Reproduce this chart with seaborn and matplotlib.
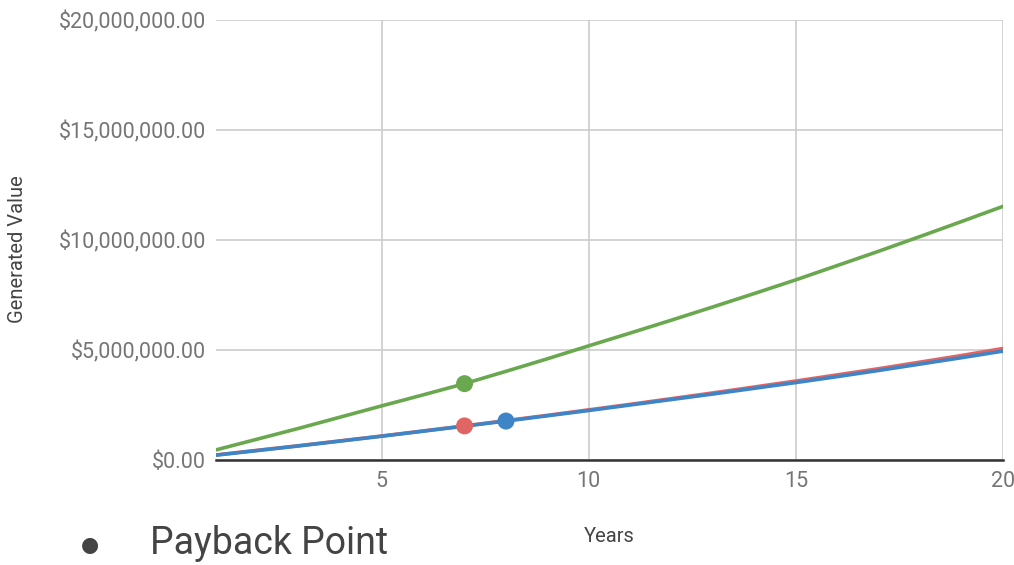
import matplotlib
matplotlib.use("Agg")
import matplotlib.pyplot as plt
from matplotlib.ticker import FuncFormatter, FixedLocator
import numpy as np
import pandas as pd
import seaborn as sns

# Cumulative generated value per scenario (USD), years 1..20
years = list(range(1, 21))
green_values = [0.46e6, 0.95e6, 1.44e6, 1.95e6, 2.46e6, 2.96e6, 3.47e6, 4.03e6, 4.60e6, 5.19e6,
                5.77e6, 6.36e6, 6.96e6, 7.57e6, 8.19e6, 8.84e6, 9.49e6, 10.16e6, 10.84e6, 11.53e6]
red_values = [0.23e6, 0.44e6, 0.65e6, 0.87e6, 1.09e6, 1.32e6, 1.55e6, 1.79e6, 2.03e6, 2.28e6,
              2.53e6, 2.79e6, 3.05e6, 3.32e6, 3.59e6, 3.87e6, 4.15e6, 4.45e6, 4.75e6, 5.07e6]
blue_values = [0.22e6, 0.43e6, 0.64e6, 0.86e6, 1.08e6, 1.31e6, 1.54e6, 1.77e6, 2.01e6, 2.25e6,
               2.50e6, 2.75e6, 3.00e6, 3.26e6, 3.52e6, 3.79e6, 4.07e6, 4.36e6, 4.65e6, 4.95e6]

series_names = ["Green", "Red", "Blue"]
series_colors = {"Green": "#6aa84f", "Red": "#e06666", "Blue": "#3d85c6"}
payback_years = {"Green": 7, "Red": 7, "Blue": 8}

y_ticks = [0, 5e6, 10e6, 15e6, 20e6]
x_ticks = [5, 10, 15, 20]

sns.set_theme(style="white")
plt.rcParams["font.family"] = ["Roboto", "DejaVu Sans"]

series = {"Green": green_values, "Red": red_values, "Blue": blue_values}
df = pd.DataFrame({
    "Year": years * 3,
    "Value": green_values + red_values + blue_values,
    "Series": sum([[n] * len(years) for n in series_names], []),
})
pts = pd.DataFrame({
    "Year": [payback_years[n] for n in series_names],
    "Value": [series[n][years.index(payback_years[n])] for n in series_names],
    "Series": series_names,
})

fig = plt.figure(figsize=(10.14, 5.65), dpi=100)
ax = fig.add_axes([216 / 1014, 105 / 565, 787 / 1014, 440 / 565])

sns.lineplot(data=df, x="Year", y="Value", hue="Series", palette=series_colors,
             linewidth=2.6, legend=False, ax=ax, zorder=3)
sns.scatterplot(data=pts, x="Year", y="Value", hue="Series", palette=series_colors,
                s=150, edgecolor="none", legend=False, ax=ax, zorder=4)

ax.set_xlim(1, 20)
ax.set_ylim(0, 20e6)
ax.xaxis.set_major_locator(FixedLocator(x_ticks))
ax.yaxis.set_major_locator(FixedLocator(y_ticks))
ax.yaxis.set_major_formatter(FuncFormatter(lambda v, p: f"${v:,.2f}"))

ax.grid(True, color="#cccccc", linewidth=1.2)
ax.set_axisbelow(True)
for side in ["top", "right", "left"]:
    ax.spines[side].set_visible(False)
ax.spines["bottom"].set_color("#333333")
ax.spines["bottom"].set_linewidth(1.8)
ax.spines["bottom"].set_zorder(5)

ax.tick_params(axis="both", length=0, labelsize=15.5, labelcolor="#757575")
ax.tick_params(axis="y", pad=7)
ax.tick_params(axis="x", pad=8)

ax.set_xlabel("Years", fontsize=14.5, color="#444444", labelpad=25)
ax.set_ylabel("Generated Value", fontsize=14.5, color="#444444")
ax.yaxis.set_label_coords(-189 / 787, 0.48)

fig.text(90 / 1014, 1 - 545 / 565, "\u25CF", fontsize=15, color="#444444",
         ha="center", va="center", family=["DejaVu Sans"])
fig.text(150 / 1014, 1 - 543 / 565, "Payback Point", fontsize=27, color="#444444",
         ha="left", va="center")

fig.savefig("out.png", dpi=100)
